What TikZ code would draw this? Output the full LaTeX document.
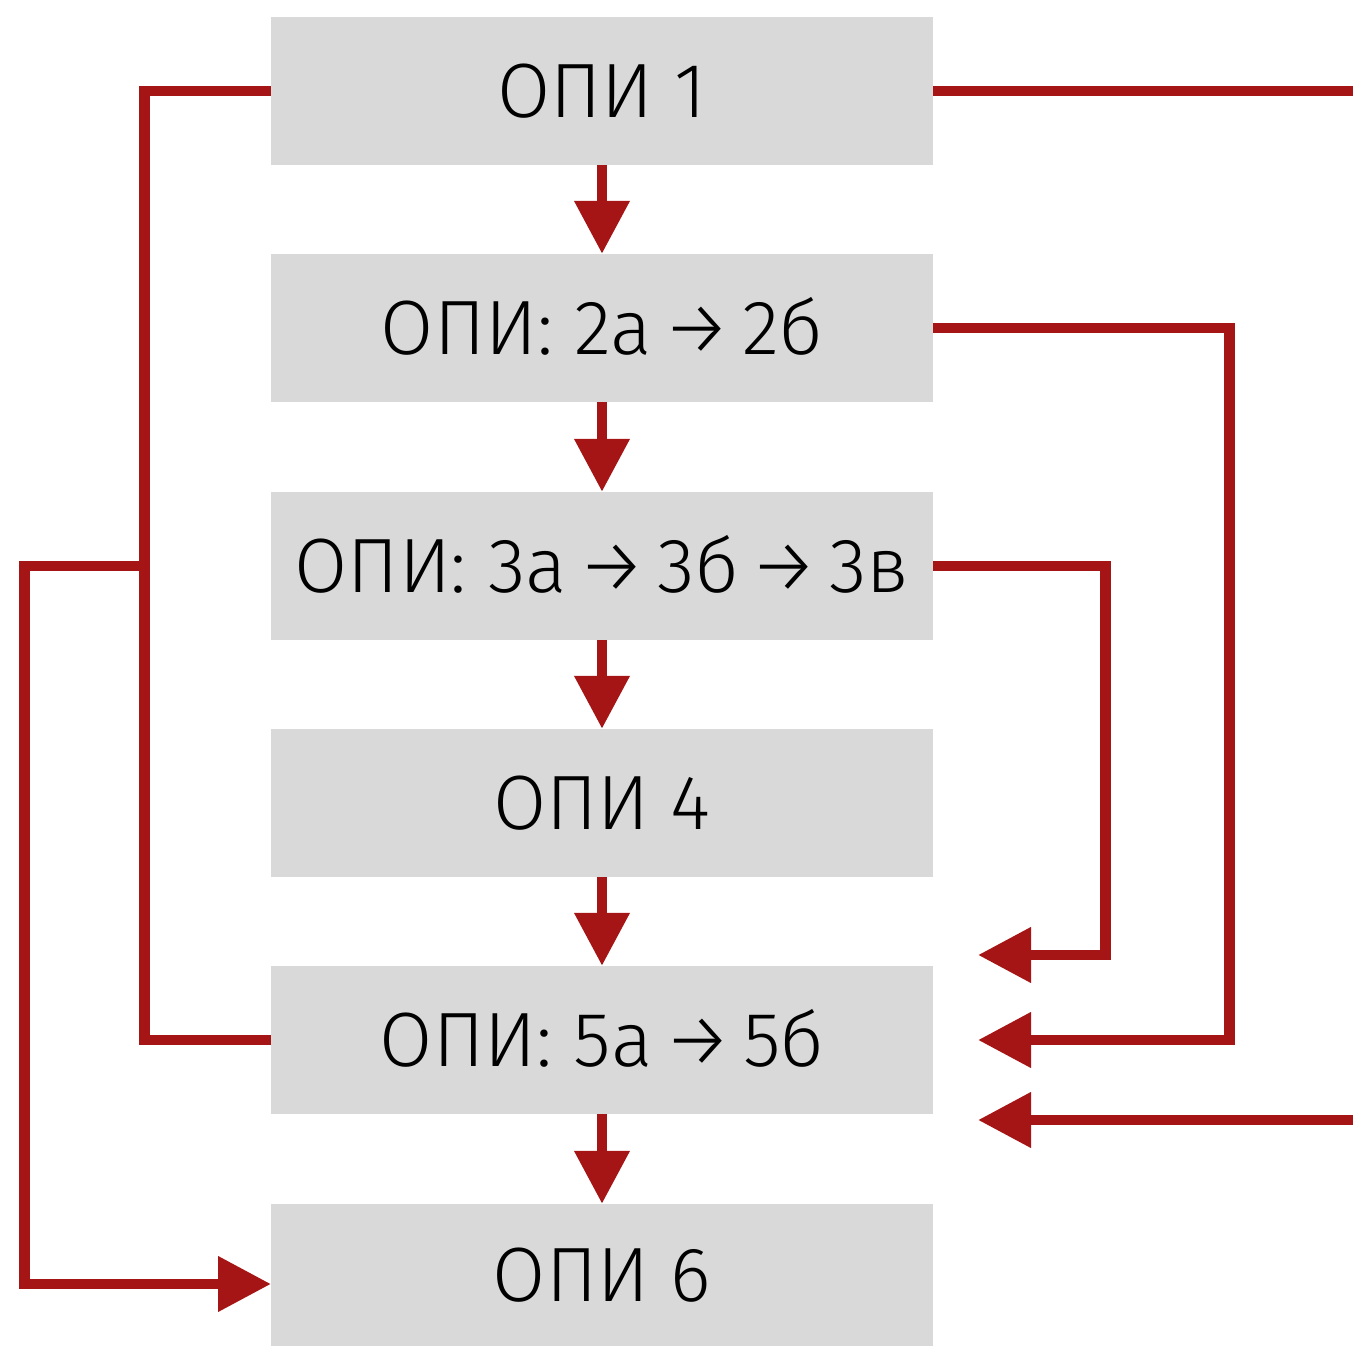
\documentclass[tikz,border=0pt]{standalone}
\usepackage{fontspec}
\setmainfont{Fira Sans Light}
\usetikzlibrary{arrows.meta}
\definecolor{rd}{HTML}{A51515}
\definecolor{bx}{HTML}{D9D9D9}
\newcommand\arw{\hspace{0.14em}→\hspace{0.14em}}
\begin{document}
\begin{tikzpicture}[x=1pt,y=-1pt,
  opi/.style={fill=bx, minimum width=662pt, minimum height=148pt, inner sep=0pt,
    text height=53pt, text depth=0pt, font=\fontsize{77}{80}\selectfont},
  conn/.style={draw=rd, line width=10.7pt, line join=miter},
  tip/.style={-{Triangle[length=53pt,width=53pt]}}]
\useasboundingbox (0,0) rectangle (1353,1346);
\node[opi] (b1) at (602,91) {ОПИ 1};
\node[opi] (b2) at (602,328) {ОПИ: 2а\arw 2б};
\node[opi] (b3) at (602,566) {ОПИ: 3а\arw 3б\arw 3в};
\node[opi] (b4) at (602,803) {ОПИ 4};
\node[opi] (b5) at (602,1040) {ОПИ: 5а\arw 5б};
\node[opi, minimum height=142pt] (b6) at (602,1275) {ОПИ 6};
% vertical arrows
\draw[conn,tip] (b1.south) -- (b2.north);
\draw[conn,tip] (b2.south) -- (b3.north);
\draw[conn,tip] (b3.south) -- (b4.north);
\draw[conn,tip] (b4.south) -- (b5.north);
\draw[conn,tip] (b5.south) -- (b6.north);
% left loops
\draw[conn] (b1.west) -- (144.5,91) -- (144.5,1040) -- (b5.west);
\coordinate (L1) at (144.5,566);
\coordinate (t6) at (271,1284);
\draw[conn,tip] (L1) -- (24.5,566) |- (t6);
% right side
\coordinate (E1) at (1353,91);
\draw[conn] (b1.east) -- (E1);
\coordinate (t3) at (978,955);
\draw[conn,tip] (b3.east) -| (1105.5,955) -- (t3);
\coordinate (t2) at (978,1040);
\draw[conn,tip] (b2.east) -| (1229.5,1040) -- (t2);
\coordinate (E2) at (1353,1120);
\coordinate (t5) at (978,1120);
\draw[conn,tip] (E2) -- (t5);
\end{tikzpicture}
\end{document}
